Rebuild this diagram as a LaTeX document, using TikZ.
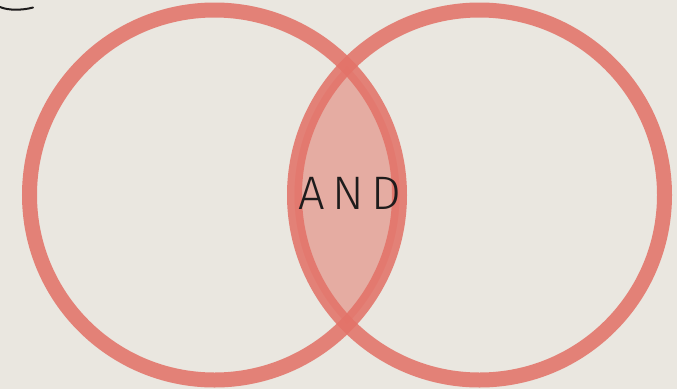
\documentclass[tikz,border=0pt]{standalone}
\usepackage{fontspec}
\setsansfont{Fira Sans}[UprightFont=* Light]
\definecolor{bgc}{RGB}{234,231,224}
\definecolor{band}{RGB}{227,115,105}
\definecolor{lensc}{RGB}{229,172,162}
\definecolor{inkc}{RGB}{30,28,28}
\tikzset{ring/.style={draw=band,draw opacity=0.88,line width=15pt},
  lbl/.style={font=\sffamily\fontsize{47}{47}\selectfont\addfontfeature{LetterSpace=16},text=inkc,inner sep=0pt}}
\begin{document}
\begin{tikzpicture}[x=1pt,y=-1pt]
\fill[bgc] (0,0) rectangle (677,389);
\useasboundingbox (0,0) rectangle (677,389);
\coordinate (cl) at (214.5,195);
\coordinate (cr) at (479.5,195);
% lens fill
\begin{scope}[xshift=3pt]
\clip (cl) circle (185);
\fill[lensc,opacity=0.6] (cr) circle (185);
\end{scope}
\begin{scope}
\clip (cl) circle (185);
\fill[lensc] (cr) circle (185);
\end{scope}
\path[ring] (cl) circle (185);
\path[ring] (cr) circle (185);
\node[lbl] (and) at (350,193) {AND};
\coordinate (m1) at (0,7);
\coordinate (m2) at (33,7.5);
\draw[inkc,line width=2pt,line cap=round] (m1) .. controls (8,10.5) and (22,10.5) .. (m2);
\end{tikzpicture}
\end{document}
